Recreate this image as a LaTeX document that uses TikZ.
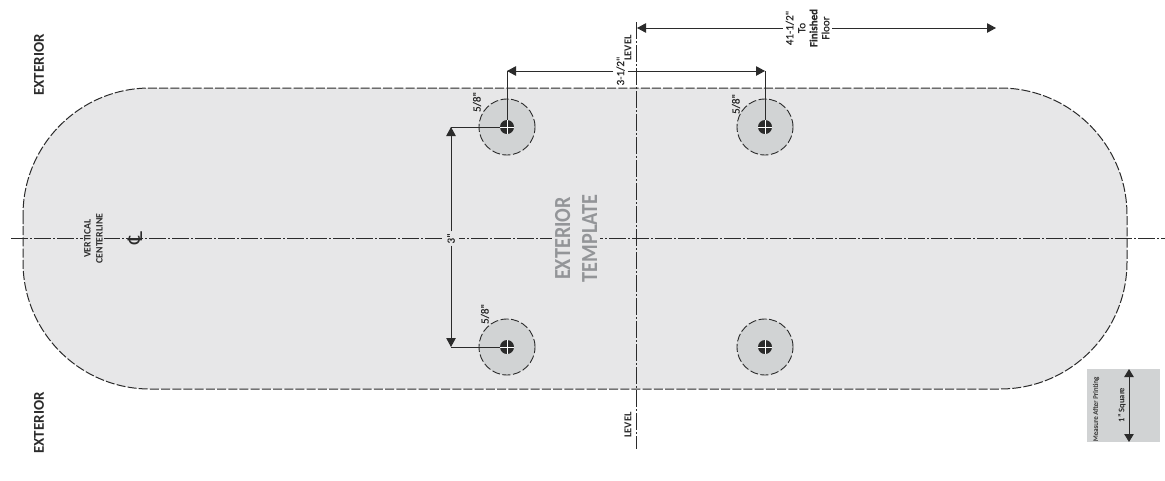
\documentclass[tikz,border=0pt]{standalone}
\usepackage{fontspec}
\setmainfont{Carlito}
\newfontfamily\symfont{DejaVu Sans}
\newfontfamily\medfont[FakeBold=0.6]{Carlito}
\usetikzlibrary{arrows.meta}
\definecolor{plate}{HTML}{E7E7E8}
\definecolor{ring}{HTML}{D1D3D4}
\definecolor{ink}{HTML}{2B2B2B}
\definecolor{title}{HTML}{939598}
\tikzset{
  x=1pt,y=-1pt,
  center line/.style={draw=ink,line width=1pt,dash pattern=on 17pt off 2.2pt on 1.6pt off 2.2pt},
  outline/.style={draw=ink,line width=1pt,dash pattern=on 9pt off 2.2pt},
  ringdisc/.style={circle,fill=ring,draw=ink,line width=.9pt,dash pattern=on 8pt off 2.6pt,minimum size=56pt,inner sep=0pt},
  bore/.style={circle,fill=ink,minimum size=14pt,inner sep=0pt},
  cross/.style={draw=white,line width=.6pt},
  dim/.style={draw=ink,line width=1pt,-{Triangle[length=9pt,width=9.5pt]}},
  leader/.style={draw=ink,line width=1pt},
  lab/.style={rotate=90,inner sep=0pt,text=ink,font=\medfont\fontsize{11}{12}\selectfont,align=center},
  blab/.style={lab,font=\fontsize{15}{16}\bfseries\selectfont},
  slab/.style={lab,font=\bfseries\fontsize{9.8}{12}\selectfont},
}
\begin{document}
\begin{tikzpicture}
\useasboundingbox (0,0) rectangle (1165,480);
\fill[white] (0,0) rectangle (1165,480);
% plate
\path[fill=plate,outline,rounded corners=127pt] (23,88) rectangle (1127,389);
% centre lines
\coordinate (hl) at (11,238); \coordinate (hr) at (1165,238);
\coordinate (vt) at (636,22); \coordinate (vb) at (636,449);
\draw[center line] (hl) -- (hr);
\draw[center line] (vt) -- (vb);
% holes
\foreach \n/\x/\y in {a/507/127,b/765/127,c/507/347,d/765/347}{
  \node[ringdisc] (r\n) at (\x,\y) {};
  \node[bore] (h\n) at (\x,\y) {};
}
% leaders
\coordinate (ta) at (507,71); \coordinate (tb) at (765,71);
\coordinate (la) at (451,127); \coordinate (lc) at (451,347);
\draw[leader] (ha.center) -- (ta);
\draw[leader] (hb.center) -- (tb);
\draw[leader] (ha.center) -- (la);
\draw[leader] (hc.center) -- (lc);
\foreach \n in {a,b,c,d}{
  \draw[cross] (h\n.west) -- (h\n.east);
  \draw[cross] (h\n.north) -- (h\n.south);
}
% dimensions
\node[lab,outer sep=3pt] (d312) at (620.5,71) {3-1/2"};
\node[lab,fill=plate,inner xsep=2pt,inner ysep=4pt] (d3) at (451,238.5) {3"};
\draw[dim] (d312) -- (ta);
\draw[dim] (d312) -- (tb);
\draw[dim] (d3) -- (la);
\draw[dim] (d3) -- (lc);
\node[lab,outer sep=3pt] (t41) at (807.5,28) {41-1/2"\\To\\\textbf{Finished}\\Floor};
\coordinate (tl) at (637,28); \coordinate (tr) at (996,28);
\draw[dim] (t41) -- (tl);
\draw[dim] (t41) -- (tr);
% labels
\node[lab] (s1) at (477,102) {5/8"};
\node[lab] (s2) at (736,104) {5/8"};
\node[lab] (s3) at (485,314) {5/8"};
\node[lab,font=\bfseries\fontsize{10.5}{11}\selectfont] (lv1) at (628,48) {LEVEL};
\node[lab,font=\bfseries\fontsize{10.5}{11}\selectfont] (lv2) at (628,425) {LEVEL};
\node[blab] (e1) at (39,65) {EXTERIOR};
\node[blab] (e2) at (39,423) {EXTERIOR};
\node[slab,fill=plate,inner xsep=1pt,inner ysep=1pt] (vc) at (93.5,238.5) {VERTICAL\\CENTERLINE};
\node[lab,font=\symfont\fontsize{20}{20}\selectfont] (cl) at (135,238) {℄};
\node[rotate=90,inner sep=3pt,fill=plate,text=title,align=center,font=\bfseries\fontsize{23}{27}\selectfont] (tpl) at (576,238.5) {\scalebox{.88}[1]{EXTERIOR}\\\scalebox{.88}[1]{TEMPLATE}};
% square
\fill[ring] (1087,369) rectangle (1160,442);
\coordinate (sqt) at (1129,369); \coordinate (sqb) at (1129,442);
\draw[draw=ink,line width=1pt,{Triangle[length=8pt,width=9.5pt]}-{Triangle[length=8pt,width=9.5pt]}] (sqt) -- (sqb);
\node[lab,font=\medfont\fontsize{7}{8}\selectfont,text=ink!85] (m) at (1096,409) {Measure After Printing};
\node[lab,font=\bfseries\fontsize{8.5}{9}\selectfont] (q) at (1122,405) {1" Square};
\end{tikzpicture}
\end{document}
